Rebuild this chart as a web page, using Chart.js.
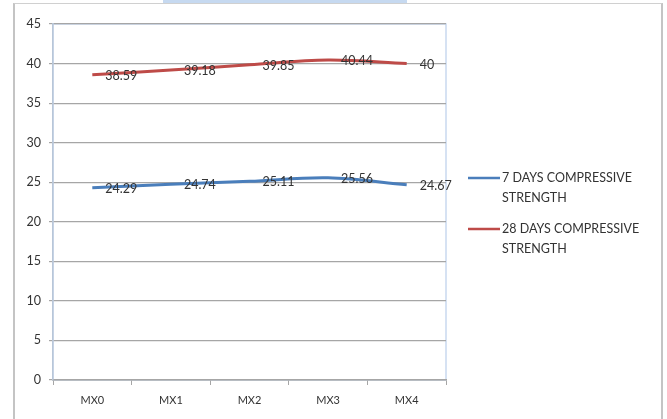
<!DOCTYPE html>
<html>
<head>
<meta charset="utf-8">
<script src="https://cdn.jsdelivr.net/npm/chart.js@4.4.1/dist/chart.umd.min.js"></script>
<style>
  html, body { margin: 0; padding: 0; background: #ffffff; }
  #wrap { position: relative; width: 667px; height: 419px; overflow: hidden; }
  #frame { position: absolute; left: 13px; top: 3px; width: 646px; height: 440px;
           border-left: 2px solid #c4c4c4; border-top: 1px solid #d0d0d0; border-right: 2px solid #c4c4c4; }
  #titleStrip { position: absolute; left: 163px; top: 0; width: 244px; height: 3px; background: #c6d9f0; }
  #chart { position: absolute; left: 0; top: 0; }
</style>
</head>
<body>
<div id="wrap">
  <div id="frame"></div>
  <div id="titleStrip"></div>
  <canvas id="chart" width="667" height="419"></canvas>
</div>
<script>
// Mix designations and measured strengths (MPa)
const mixes = ['MX0', 'MX1', 'MX2', 'MX3', 'MX4'];
const strength7 = [24.29, 24.74, 25.11, 25.56, 24.67];
const strength28 = [38.59, 39.18, 39.85, 40.44, 40];
const seriesNames = [['7 DAYS COMPRESSIVE', 'STRENGTH'], ['28 DAYS COMPRESSIVE', 'STRENGTH']];
const yTicks = [0, 5, 10, 15, 20, 25, 30, 35, 40, 45];

const FONT = 'Lato, "Noto Sans", sans-serif';
const TEXT = '#333333';

// Light blue outline around the plotting area
const plotBorder = {
  id: 'plotBorder',
  beforeDraw(chart) {
    const { ctx, chartArea: a } = chart;
    ctx.save();
    ctx.strokeStyle = '#c9d9ef';
    ctx.lineWidth = 1.5;
    ctx.strokeRect(a.left, a.top, a.right - a.left, a.bottom - a.top);
    ctx.restore();
  }
};

// Value labels to the right of each point
const valueLabels = {
  id: 'valueLabels',
  afterDatasetsDraw(chart) {
    const { ctx } = chart;
    ctx.save();
    ctx.font = '12.5px ' + FONT;
    ctx.fillStyle = TEXT;
    ctx.textAlign = 'left';
    ctx.textBaseline = 'middle';
    chart.data.datasets.forEach((ds, i) => {
      chart.getDatasetMeta(i).data.forEach((pt, j) => {
        ctx.fillText(String(ds.data[j]), pt.x + 13, pt.y + 1);
      });
    });
    ctx.restore();
  }
};

// Two-line legend entries beside the plot
const sideLegend = {
  id: 'sideLegend',
  afterDraw(chart) {
    const { ctx, chartArea: a } = chart;
    ctx.save();
    ctx.font = '12.5px ' + FONT;
    ctx.fillStyle = TEXT;
    ctx.textAlign = 'left';
    ctx.textBaseline = 'middle';
    const x0 = a.right + 22;
    const tops = [178, 229];
    chart.data.datasets.forEach((ds, i) => {
      const y = tops[i];
      ctx.strokeStyle = ds.borderColor;
      ctx.lineWidth = 2.5;
      ctx.beginPath();
      ctx.moveTo(x0, y);
      ctx.lineTo(x0 + 32, y);
      ctx.stroke();
      seriesNames[i].forEach((line, k) => {
        ctx.fillText(line, x0 + 34, y + k * 20);
      });
    });
    ctx.restore();
  }
};

new Chart(document.getElementById('chart'), {
  type: 'line',
  data: {
    labels: mixes,
    datasets: [
      { label: seriesNames[0].join(' '), data: strength7, borderColor: '#4a7ebb',
        borderWidth: 3, pointRadius: 0, tension: 0.35, fill: false },
      { label: seriesNames[1].join(' '), data: strength28, borderColor: '#be4b48',
        borderWidth: 3, pointRadius: 0, tension: 0.35, fill: false }
    ]
  },
  options: {
    responsive: false,
    animation: false,
    events: [],
    layout: { padding: { left: 14, top: 24, right: 221, bottom: 0 } },
    plugins: { legend: { display: false }, tooltip: { enabled: false }, title: { display: false } },
    scales: {
      x: {
        offset: true,
        grid: { offset: true, drawOnChartArea: false, drawTicks: true, tickLength: 5, color: '#a6a6a6' },
        border: { color: '#a6a6a6', width: 1.5 },
        ticks: { color: TEXT, font: { family: FONT, size: 11 }, padding: 9 },
        afterFit(s) { s.height = 39; }
      },
      y: {
        min: 0, max: 45,
        afterBuildTicks(s) { s.ticks = yTicks.map(v => ({ value: v })); },
        grid: { color: '#a6a6a6', lineWidth: 1.2, tickLength: 4 },
        border: { color: '#b8c6d8', width: 1.5 },
        ticks: { color: TEXT, font: { family: FONT, size: 12.5 }, padding: 8 },
        afterFit(s) { s.width = 39; }
      }
    }
  },
  plugins: [plotBorder, valueLabels, sideLegend]
});
</script>
</body>
</html>
